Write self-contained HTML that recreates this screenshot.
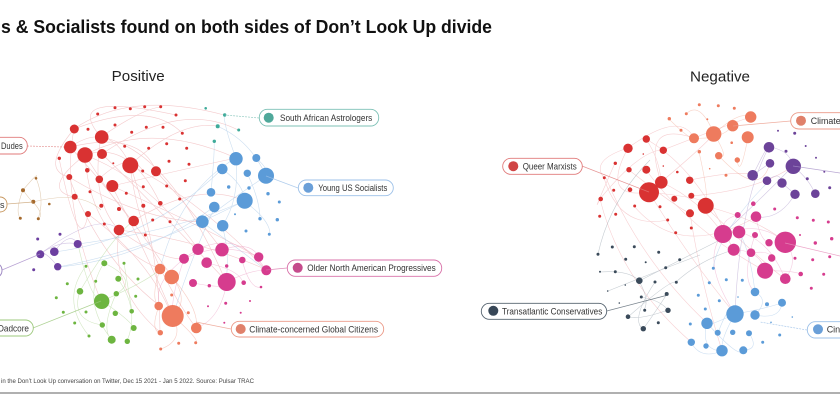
<!DOCTYPE html>
<html><head><meta charset="utf-8"><style>
html,body{margin:0;padding:0;background:#fff;}
svg{display:block;}
text{font-family:"Liberation Sans",sans-serif;}
</style></head><body>
<svg width="840" height="400" viewBox="0 0 840 400" xmlns="http://www.w3.org/2000/svg">
<rect width="840" height="400" fill="#fff"/>
<text x="1" y="33" font-size="18" font-weight="bold" fill="#111" textLength="491" lengthAdjust="spacingAndGlyphs">s &amp; Socialists found on both sides of Don’t Look Up divide</text>
<text x="111.7" y="81" font-size="15" fill="#222" textLength="53" lengthAdjust="spacingAndGlyphs">Positive</text>
<text x="690" y="81.5" font-size="15" fill="#222" textLength="60" lengthAdjust="spacingAndGlyphs">Negative</text>

<!-- POSITIVE EDGES -->
<g fill="none" stroke-width="0.6">
<g stroke="#e06a70" opacity="0.35">
<path d="M74 129 Q130 90 224 115"/><path d="M85 155 Q150 120 236 158"/><path d="M70 147 Q120 200 172 277"/>
<path d="M85 155 Q90 240 160 269"/><path d="M101 137 Q170 150 226 282"/><path d="M130 165 Q200 200 266 270"/>
<path d="M74 129 Q60 200 101 301"/><path d="M112 186 Q150 260 173 316"/><path d="M102 154 Q180 100 238 130"/>
<path d="M85 155 Q150 180 198 249"/><path d="M69 177 Q100 260 160 306"/><path d="M130 165 Q140 250 196 328"/>
<path d="M156 171 Q200 220 222 250"/><path d="M119 230 Q160 260 184 259"/><path d="M88 214 Q150 260 172 316"/>
<path d="M70 147 Q140 130 156 171"/><path d="M101 137 Q90 200 119 230"/><path d="M85 155 Q130 140 160 203"/>
<path d="M74 129 Q150 100 182 133"/><path d="M112 186 Q180 170 236 158"/><path d="M133 221 Q200 180 244 201"/>
<path d="M59 158 Q80 260 88 214"/><path d="M130 165 Q180 120 217 126"/><path d="M101 137 Q60 90 176 115"/>
<path d="M69 177 Q140 220 202 222"/><path d="M119 230 Q200 240 267 270"/><path d="M85 155 Q40 190 74 197"/>
<path d="M99 179 Q130 150 143 171"/><path d="M130 165 Q160 250 160 332"/><path d="M112 186 Q210 230 258 257"/>
<path d="M74 129 Q40 170 69 177"/><path d="M101 137 Q140 110 160 107"/><path d="M85 155 Q120 210 133 221"/>
<path d="M70 147 Q110 120 130 165"/><path d="M102 154 Q150 200 227 282"/><path d="M119 230 Q110 290 160 332"/>
</g>
<g stroke="#8fb8e0" opacity="0.45">
<path d="M236 158 Q240 200 222 226"/><path d="M266 176 Q230 200 202 222"/><path d="M244 201 Q180 230 78 244"/>
<path d="M222 169 Q150 240 54 252"/><path d="M214 207 Q140 260 58 267"/><path d="M236 158 Q225 130 224 115"/>
<path d="M266 176 Q250 140 217 126"/><path d="M211 192 Q215 150 214 141"/><path d="M244 201 Q270 220 270 234"/>
<path d="M247 173 Q260 200 260 219"/><path d="M202 222 Q240 250 266 270"/><path d="M222 226 Q230 250 226 282"/>
<path d="M256 158 Q270 170 266 176"/><path d="M222 169 Q245 185 244 201"/><path d="M215 207 Q190 260 173 316"/>
<path d="M236 158 Q180 190 160 269"/><path d="M244 201 Q150 250 58 267"/>
</g>
<g stroke="#a8d08a" opacity="0.5">
<path d="M104 263 Q80 300 112 340"/><path d="M118 279 Q140 310 127 341"/><path d="M80 291 Q70 320 102 325"/>
<path d="M102 301 Q130 320 134 328"/><path d="M86 266 Q60 300 89 336"/><path d="M116 294 Q100 330 112 340"/>
<path d="M104 263 Q140 280 116 294"/><path d="M78 244 Q90 300 102 301"/><path d="M102 301 Q150 280 160 269"/>
<path d="M124 263 Q130 300 132 311"/><path d="M80 291 Q110 240 133 221"/>
</g>
<g stroke="#a58ac8" opacity="0.5">
<path d="M40 254 Q60 240 78 244"/><path d="M54 252 Q70 230 78 244"/><path d="M58 267 Q45 250 40 254"/><path d="M40 254 Q100 210 119 230"/>
</g>
<g stroke="#c8a070" opacity="0.5">
<path d="M23 190 Q40 170 36 178"/><path d="M23 190 Q15 210 20 218"/><path d="M33 202 Q45 215 38 219"/><path d="M36 178 Q45 200 38 219"/><path d="M23 190 Q30 200 33 202"/><path d="M33 202 Q80 190 101 210"/>
</g>
<g stroke="#e88ab8" opacity="0.45">
<path d="M184 259 Q220 240 259 257"/><path d="M198 249 Q240 230 266 270"/><path d="M227 282 Q250 270 266 270"/>
<path d="M207 263 Q240 270 243 283"/><path d="M193 283 Q230 290 227 282"/><path d="M222 250 Q250 240 259 257"/>
<path d="M184 259 Q170 300 173 316"/><path d="M198 249 Q150 280 160 306"/><path d="M227 282 Q220 320 196 328"/>
<path d="M242 260 Q250 290 261 287"/>
</g>
<g stroke="#f0a090" opacity="0.5">
<path d="M160 269 Q150 300 159 306"/><path d="M172 277 Q190 300 173 316"/><path d="M173 316 Q185 340 161 349"/>
<path d="M159 306 Q150 330 160 333"/><path d="M173 316 Q200 340 196 343"/><path d="M172 277 Q200 310 196 328"/>
</g>
</g>

<!-- POSITIVE NODES -->
<g fill="#d93232">
<circle cx="74.3" cy="129" r="4.5"/><circle cx="88" cy="129.3" r="1.5"/><circle cx="97.7" cy="114" r="1.5"/>
<circle cx="115" cy="107.7" r="1.5"/><circle cx="130.3" cy="108.7" r="1.5"/><circle cx="144.7" cy="106.7" r="1.5"/>
<circle cx="160.7" cy="106.7" r="1.5"/><circle cx="176" cy="115" r="1.5"/><circle cx="115" cy="125" r="1.5"/>
<circle cx="131.7" cy="132.3" r="1.5"/><circle cx="146.3" cy="127.3" r="1.5"/><circle cx="163" cy="127.3" r="1.5"/>
<circle cx="182.3" cy="133.3" r="1.5"/><circle cx="101.7" cy="137" r="6.8"/><circle cx="70.3" cy="147" r="6.3"/>
<circle cx="85" cy="155" r="7.7"/><circle cx="102" cy="154" r="5"/><circle cx="59.3" cy="158.3" r="1.7"/>
<circle cx="124.7" cy="146.3" r="1.5"/><circle cx="148.7" cy="148.3" r="1.5"/><circle cx="166.7" cy="143.7" r="1.5"/>
<circle cx="186.7" cy="148.3" r="1.5"/><circle cx="130.3" cy="165.3" r="8"/><circle cx="87.3" cy="170.3" r="2.3"/>
<circle cx="69.3" cy="177" r="3"/><circle cx="99.3" cy="179.3" r="3.8"/><circle cx="112.3" cy="186" r="6"/>
<circle cx="90" cy="191.7" r="1.5"/><circle cx="74.7" cy="196.7" r="3"/><circle cx="126.3" cy="193.3" r="1.5"/>
<circle cx="143.3" cy="186.7" r="1.5"/><circle cx="156" cy="171.3" r="5"/><circle cx="142.7" cy="171" r="1.5"/>
<circle cx="169" cy="161.3" r="1.5"/><circle cx="189" cy="164.3" r="1.5"/><circle cx="166.7" cy="186" r="1.5"/>
<circle cx="185.3" cy="180.7" r="1.5"/><circle cx="101.3" cy="205.7" r="2"/><circle cx="119" cy="209" r="2"/>
<circle cx="143.3" cy="205.7" r="2"/><circle cx="160.3" cy="203.3" r="2.3"/><circle cx="179.7" cy="199" r="1.5"/>
<circle cx="88" cy="214" r="3"/><circle cx="133.7" cy="221" r="5.3"/><circle cx="119" cy="230" r="5.3"/>
<circle cx="104.3" cy="224" r="1.5"/><circle cx="152.7" cy="220" r="1.5"/><circle cx="170" cy="221.7" r="1.5"/>
<circle cx="145.3" cy="235" r="1.5"/><circle cx="113.3" cy="163.3" r="1"/>
</g>
<g fill="#a5692c">
<circle cx="36" cy="178.3" r="1.3"/><circle cx="23" cy="190.3" r="2"/><circle cx="33.3" cy="201.7" r="2"/>
<circle cx="49.3" cy="204" r="1.3"/><circle cx="20.3" cy="218.3" r="1.5"/><circle cx="38.3" cy="218.7" r="1.5"/>
</g>
<g fill="#3fab9a">
<circle cx="205.7" cy="108.3" r="1.3"/><circle cx="224.7" cy="115" r="1.7"/><circle cx="217.7" cy="126.3" r="2"/>
<circle cx="238.7" cy="130" r="1.5"/><circle cx="214.3" cy="141.3" r="1.7"/>
</g>
<g fill="#5b9bd8">
<circle cx="236" cy="158.7" r="6.7"/><circle cx="256.3" cy="158" r="4"/><circle cx="222.3" cy="169" r="5.3"/>
<circle cx="247.3" cy="173.3" r="3.7"/><circle cx="266" cy="175.7" r="8"/><circle cx="228.7" cy="187" r="1.7"/>
<circle cx="249" cy="188" r="1.7"/><circle cx="268" cy="193.7" r="1.7"/><circle cx="279.3" cy="202" r="1.5"/>
<circle cx="211" cy="192.3" r="4.3"/><circle cx="244.7" cy="200.7" r="8"/><circle cx="214.3" cy="207" r="5.3"/>
<circle cx="235" cy="214.3" r="1"/><circle cx="202.3" cy="221.7" r="6.3"/><circle cx="222.7" cy="225.7" r="5.7"/>
<circle cx="260" cy="218.7" r="1.7"/><circle cx="277.3" cy="219.7" r="1.7"/><circle cx="246" cy="231" r="1.5"/>
<circle cx="269.3" cy="234.3" r="1.5"/>
</g>
<g fill="#6c3fa0">
<circle cx="37.7" cy="239" r="1.5"/><circle cx="60" cy="234.3" r="1.5"/><circle cx="77.7" cy="244" r="4"/>
<circle cx="54.3" cy="251.7" r="4.3"/><circle cx="40.3" cy="254.3" r="4"/><circle cx="57.7" cy="266.7" r="3.7"/>
<circle cx="33.7" cy="269.7" r="1.5"/>
</g>
<g fill="#6db540">
<circle cx="104.3" cy="263.3" r="3"/><circle cx="86" cy="266.3" r="1.5"/><circle cx="124" cy="263.3" r="1.5"/>
<circle cx="118.3" cy="278.7" r="3"/><circle cx="138" cy="279" r="1.5"/><circle cx="95.7" cy="281.3" r="1.5"/>
<circle cx="67.3" cy="283.7" r="1.5"/><circle cx="80" cy="291.3" r="3.3"/><circle cx="116.3" cy="293.7" r="2.7"/>
<circle cx="101.7" cy="301.3" r="7.7"/><circle cx="56.3" cy="297.7" r="1.5"/><circle cx="135.7" cy="296.3" r="1.5"/>
<circle cx="63.3" cy="312.3" r="1.5"/><circle cx="86" cy="312" r="1.5"/><circle cx="115.3" cy="313.3" r="2.7"/>
<circle cx="131.7" cy="311.3" r="2.3"/><circle cx="74.7" cy="323" r="1.5"/><circle cx="102.3" cy="325" r="2.7"/>
<circle cx="133.7" cy="328" r="3"/><circle cx="89" cy="336" r="1.5"/><circle cx="111.7" cy="339.7" r="4"/>
<circle cx="127.3" cy="341.3" r="2.7"/>
</g>
<g fill="#ee7b5e">
<circle cx="160" cy="269" r="5.3"/><circle cx="171.7" cy="277" r="7.3"/><circle cx="171.7" cy="295" r="1.5"/>
<circle cx="158.7" cy="306" r="4.3"/><circle cx="172.7" cy="316" r="11"/><circle cx="188.3" cy="312.7" r="1.5"/>
<circle cx="196.3" cy="328" r="5.3"/><circle cx="160.3" cy="332.7" r="2.7"/><circle cx="178.7" cy="343.3" r="1.5"/>
<circle cx="195.7" cy="342.7" r="1.5"/><circle cx="160.7" cy="349" r="1.5"/>
</g>
<g fill="#d63c8e">
<circle cx="184" cy="258.7" r="5"/><circle cx="198" cy="249.3" r="5.7"/><circle cx="222" cy="249.7" r="6.7"/>
<circle cx="206.7" cy="262.7" r="5.3"/><circle cx="226.7" cy="282" r="9"/><circle cx="193" cy="283" r="4"/>
<circle cx="209.3" cy="285.7" r="1.7"/><circle cx="226.7" cy="266" r="1.7"/><circle cx="242.3" cy="260" r="3.3"/>
<circle cx="258.7" cy="257" r="4.7"/><circle cx="266.3" cy="270.3" r="5"/><circle cx="243.7" cy="282.7" r="2.3"/>
<circle cx="261" cy="287" r="1.3"/><circle cx="225.7" cy="303.3" r="1.5"/><circle cx="250" cy="301" r="1"/>
<circle cx="208" cy="306.3" r="1"/><circle cx="240.7" cy="312.7" r="1"/><circle cx="224.3" cy="322.7" r="1"/>
</g>

<!-- NEGATIVE EDGES -->
<g fill="none" stroke-width="0.6">
<g stroke="#e87a80" opacity="0.35">
<path d="M649 192 Q700 150 714 134"/><path d="M649 192 Q720 200 705 206"/><path d="M628 148 Q600 200 649 192"/>
<path d="M661 182 Q700 200 723 234"/><path d="M646 139 Q700 170 733 250"/><path d="M649 192 Q690 260 735 314"/>
<path d="M606 178 Q640 260 707 323"/><path d="M600 199 Q620 280 691 342"/><path d="M705 206 Q760 220 785 242"/>
<path d="M690 180 Q740 170 753 175"/><path d="M628 148 Q680 110 694 138"/><path d="M663 150 Q740 120 751 117"/>
<path d="M629 170 Q680 210 690 213"/><path d="M646 170 Q690 230 765 271"/><path d="M615 163 Q590 220 600 199"/>
<path d="M604 178 Q620 230 667 220"/><path d="M705 206 Q760 260 785 279"/><path d="M690 213 Q700 280 722 351"/>
<path d="M661 182 Q640 120 694 138"/><path d="M634 206 Q680 260 756 217"/><path d="M628 148 Q590 160 604 178"/>
<path d="M646 139 Q660 160 661 182"/><path d="M600 199 Q640 150 663 150"/><path d="M691 196 Q760 190 793 166"/>
</g>
<g stroke="#f0a088" opacity="0.45">
<path d="M714 134 Q740 110 751 117"/><path d="M694 138 Q720 140 733 126"/><path d="M714 134 Q730 160 719 156"/>
<path d="M699 152 Q710 200 705 206"/><path d="M748 137 Q740 180 737 160"/><path d="M669 119 Q690 140 694 138"/>
<path d="M719 156 Q760 200 770 163"/><path d="M686 114 Q700 100 714 134"/>
</g>
<g stroke="#a792c8" opacity="0.5">
<path d="M769 147 Q790 150 793 166"/><path d="M770 163 Q760 170 753 175"/><path d="M793 166 Q810 180 815 194"/>
<path d="M782 183 Q790 190 795 194"/><path d="M767 181 Q780 170 782 183"/><path d="M753 175 Q770 140 769 147"/>
<path d="M795 194 Q780 220 756 217"/><path d="M793 166 Q760 200 723 234"/><path d="M769 147 Q740 200 735 314"/>
</g>
<g stroke="#e890bc" opacity="0.45">
<path d="M723 234 Q760 220 785 242"/><path d="M739 232 Q770 240 785 279"/><path d="M734 250 Q760 250 765 271"/>
<path d="M751 253 Q770 250 772 258"/><path d="M723 234 Q700 260 735 314"/><path d="M785 242 Q800 260 785 279"/>
<path d="M756 217 Q760 240 769 243"/><path d="M755 235 Q740 280 755 292"/><path d="M765 271 Q790 270 801 274"/>
<path d="M737 215 Q720 220 723 234"/>
</g>
<g stroke="#98a4ae" opacity="0.55">
<path d="M639 281 Q680 260 720 240"/><path d="M639 281 Q650 300 644 310"/><path d="M667 294 Q650 320 643 329"/>
<path d="M668 310 Q640 320 628 317"/><path d="M655 282 Q630 320 643 329"/><path d="M676 282 Q700 260 733 250"/>
<path d="M598 254 Q610 200 650 160"/><path d="M608 291 Q660 270 700 255"/><path d="M641 297 Q660 300 668 310"/>
<path d="M628 317 Q670 280 676 282"/><path d="M600 272 Q630 270 639 281"/>
</g>
<g stroke="#9cc0e6" opacity="0.5">
<path d="M735 314 Q760 310 782 303"/><path d="M735 314 Q700 330 707 323"/><path d="M755 292 Q770 300 755 315"/>
<path d="M735 314 Q720 340 722 351"/><path d="M707 323 Q700 350 722 351"/><path d="M749 333 Q760 350 743 350"/>
<path d="M755 315 Q780 320 782 303"/><path d="M691 342 Q700 360 722 351"/><path d="M755 292 Q750 250 739 232"/>
<path d="M718 333 Q730 300 735 314"/><path d="M713 268 Q720 230 769 181"/><path d="M707 323 Q740 360 743 350"/>
</g>
</g>

<!-- NEGATIVE NODES -->
<g fill="#ee7b5e">
<circle cx="699.3" cy="104.7" r="1.5"/><circle cx="718.3" cy="105.7" r="1.5"/><circle cx="734.3" cy="108.3" r="1.5"/>
<circle cx="686.3" cy="113.7" r="1.5"/><circle cx="669.3" cy="118.7" r="1.7"/><circle cx="707.3" cy="119.3" r="1"/>
<circle cx="750.7" cy="117" r="5.7"/><circle cx="732.7" cy="125.7" r="5.7"/><circle cx="713.7" cy="134" r="7.7"/>
<circle cx="681" cy="130.3" r="1.5"/><circle cx="694" cy="138.3" r="5"/><circle cx="747.7" cy="137.3" r="6"/>
<circle cx="731.7" cy="142.7" r="1.3"/><circle cx="699.3" cy="151.7" r="1.7"/><circle cx="718.7" cy="155.7" r="3.7"/>
<circle cx="737.3" cy="160" r="2.7"/><circle cx="709.7" cy="168.7" r="0.8"/><circle cx="726" cy="175.3" r="1.5"/>
</g>
<g fill="#d93232">
<circle cx="646.3" cy="139" r="3.7"/><circle cx="628" cy="148.3" r="4.7"/><circle cx="663.3" cy="150.3" r="3.7"/>
<circle cx="643.3" cy="154" r="0.8"/><circle cx="615.3" cy="163.3" r="1.7"/><circle cx="629" cy="169.7" r="2.7"/>
<circle cx="646.3" cy="169.7" r="4"/><circle cx="663.3" cy="166" r="0.8"/><circle cx="677.3" cy="172" r="1.3"/>
<circle cx="604.3" cy="177.7" r="1.5"/><circle cx="661.3" cy="182.3" r="6.3"/><circle cx="649" cy="192.3" r="10"/>
<circle cx="689.7" cy="180.3" r="3.7"/><circle cx="630" cy="189.7" r="2.3"/><circle cx="613.7" cy="190.3" r="1.5"/>
<circle cx="600.7" cy="199" r="2.3"/><circle cx="674.3" cy="198.7" r="3"/><circle cx="691.3" cy="195.7" r="3"/>
<circle cx="705.7" cy="205.7" r="8"/><circle cx="634.7" cy="206" r="1.5"/><circle cx="660" cy="206.7" r="1.5"/>
<circle cx="690" cy="213.3" r="4"/><circle cx="599.7" cy="216.3" r="1.5"/><circle cx="615.7" cy="214.3" r="1.5"/>
<circle cx="667.7" cy="220" r="1.5"/><circle cx="675.7" cy="232.7" r="1.5"/><circle cx="691.3" cy="228" r="1.5"/>
</g>
<g fill="#6c4399">
<circle cx="769" cy="147.3" r="5.3"/><circle cx="778" cy="130.7" r="1"/><circle cx="794.7" cy="133.3" r="1.5"/>
<circle cx="805.7" cy="146" r="1"/><circle cx="786" cy="151.3" r="1.5"/><circle cx="816" cy="157.7" r="1"/>
<circle cx="770" cy="163.3" r="4.3"/><circle cx="793.3" cy="166.3" r="7.7"/><circle cx="752.7" cy="175.3" r="5.3"/>
<circle cx="767" cy="180.7" r="4.3"/><circle cx="782" cy="183" r="4.7"/><circle cx="807.3" cy="178.7" r="1.5"/>
<circle cx="824.3" cy="171.7" r="1"/><circle cx="795" cy="194.3" r="4.7"/><circle cx="815.3" cy="193.7" r="4.3"/>
<circle cx="829.7" cy="187.7" r="1.5"/>
</g>
<g fill="#d63c8e">
<circle cx="753.3" cy="203.7" r="2.3"/><circle cx="774.7" cy="209" r="1.5"/><circle cx="756" cy="216.7" r="5.3"/>
<circle cx="737.7" cy="215" r="3"/><circle cx="797.3" cy="217.7" r="1.5"/><circle cx="813.3" cy="220.3" r="1.5"/>
<circle cx="828.3" cy="222" r="1.5"/><circle cx="723" cy="234" r="9"/><circle cx="739" cy="232" r="6.3"/>
<circle cx="755" cy="235" r="3"/><circle cx="785.3" cy="242.3" r="10.7"/><circle cx="769" cy="242.7" r="3.7"/>
<circle cx="733.7" cy="249.7" r="6"/><circle cx="751" cy="252.7" r="4.3"/><circle cx="771.7" cy="258" r="3.7"/>
<circle cx="765" cy="270.7" r="8"/><circle cx="785.3" cy="278.7" r="5.3"/><circle cx="800.7" cy="274" r="2.3"/>
<circle cx="815.3" cy="243" r="1.7"/><circle cx="831.7" cy="238.7" r="1.7"/><circle cx="795" cy="258.3" r="1.5"/>
<circle cx="812.7" cy="259.7" r="1.5"/><circle cx="829.7" cy="256.7" r="1.5"/><circle cx="823.7" cy="274.3" r="1.5"/>
<circle cx="811.3" cy="288.3" r="1.5"/><circle cx="800" cy="235" r="1"/>
</g>
<g fill="#3a4a5a">
<circle cx="598" cy="254.3" r="1.5"/><circle cx="612.3" cy="247" r="1.5"/><circle cx="634.3" cy="246.7" r="1.5"/>
<circle cx="658.7" cy="252.3" r="1.5"/><circle cx="625.7" cy="259.3" r="1.5"/><circle cx="645.7" cy="262.3" r="1"/>
<circle cx="679.7" cy="259.7" r="1.5"/><circle cx="600" cy="271.7" r="1"/><circle cx="615.3" cy="271.7" r="1.5"/>
<circle cx="665.7" cy="267.7" r="1.5"/><circle cx="639.3" cy="280.7" r="3.3"/><circle cx="655" cy="282" r="1.5"/>
<circle cx="676.3" cy="282.3" r="1.5"/><circle cx="625.3" cy="285" r="0.8"/><circle cx="607.7" cy="291" r="0.8"/>
<circle cx="666.7" cy="294" r="2"/><circle cx="641.3" cy="297" r="1.5"/><circle cx="619.3" cy="303" r="0.8"/>
<circle cx="644.7" cy="310.3" r="1.5"/><circle cx="668" cy="310.3" r="2.7"/><circle cx="628" cy="316.7" r="2.3"/>
<circle cx="658.3" cy="322.7" r="1.5"/><circle cx="643.3" cy="328.7" r="2.7"/>
</g>
<g fill="#5b9bd8">
<circle cx="713.3" cy="268.3" r="1.5"/><circle cx="709.3" cy="282.7" r="1.5"/><circle cx="726.3" cy="279.7" r="1.5"/>
<circle cx="742.3" cy="280.3" r="1.5"/><circle cx="698.3" cy="295.3" r="1.5"/><circle cx="719.3" cy="300.7" r="1.5"/>
<circle cx="755" cy="292" r="4.3"/><circle cx="767" cy="304.3" r="2"/><circle cx="782" cy="302.7" r="4"/>
<circle cx="705.3" cy="309" r="1.5"/><circle cx="735" cy="314" r="8.7"/><circle cx="755" cy="315" r="4.7"/>
<circle cx="792.3" cy="317" r="0.8"/><circle cx="690.3" cy="324" r="1.5"/><circle cx="707" cy="323.3" r="5.7"/>
<circle cx="771" cy="322.3" r="0.8"/><circle cx="717.7" cy="332.7" r="3"/><circle cx="732.7" cy="332.3" r="2.7"/>
<circle cx="749" cy="333.3" r="3"/><circle cx="779.7" cy="335" r="1.5"/><circle cx="762.7" cy="342.3" r="1.5"/>
<circle cx="691.3" cy="342.3" r="3.7"/><circle cx="706" cy="346" r="2.7"/><circle cx="722" cy="350.7" r="5.7"/>
<circle cx="743.3" cy="350.3" r="4"/><circle cx="738" cy="297" r="0.8"/>
</g>

<!-- LEADER LINES -->
<g fill="none" stroke-width="0.7" opacity="0.8">
<path d="M27 146 L64 147" stroke="#e08080" stroke-dasharray="2 1"/>
<path d="M7 204 L33 202" stroke="#c8a070"/>
<path d="M2 270 L40 254" stroke="#a58ac8"/>
<path d="M33 328 L101 301" stroke="#9cc87c"/>
<path d="M259 118 L225 115" stroke="#7cc0b5" stroke-dasharray="2 1"/>
<path d="M298 188 L266 176" stroke="#9cc0e8"/>
<path d="M287 268 L266 270" stroke="#d870a8"/>
<path d="M231 329 L196 322" stroke="#eb9a88"/>
<path d="M582 166 L649 192" stroke="#e07a7a"/>
<path d="M790.7 121 L733 126" stroke="#eb9a88"/>
<path d="M606.7 311 L668 295" stroke="#55636f"/>
<path d="M807 330 L760 322" stroke="#9cc0e8" stroke-dasharray="2 1"/>
<path d="M793 166 L840 173" stroke="#a792c8"/>
<path d="M785 243 L840 256" stroke="#e890bc"/>
</g>

<!-- LABELS -->
<g font-size="9" fill="#333">
<rect x="-20" y="137.3" width="47.3" height="16.7" rx="8" fill="#fff" stroke="#e07a7a" stroke-width="0.9"/>
<text x="1" y="149" textLength="21.7" lengthAdjust="spacingAndGlyphs">Dudes</text>
<rect x="-20" y="197" width="27" height="15" rx="7" fill="#fff" stroke="#c89860" stroke-width="0.9"/>
<text x="0" y="208">s</text>
<rect x="-20" y="263" width="22" height="14.7" rx="7" fill="#fff" stroke="#9b85c0" stroke-width="0.9"/>
<rect x="-20" y="320" width="53.3" height="16" rx="8" fill="#fff" stroke="#9cc87c" stroke-width="0.9"/>
<text x="-2" y="331.5" textLength="31" lengthAdjust="spacingAndGlyphs">Dadcore</text>

<rect x="259.3" y="109.3" width="119.4" height="16.7" rx="8" fill="#fff" stroke="#7cc0b5" stroke-width="0.9"/>
<circle cx="268.7" cy="117.7" r="5" fill="#4fa89a"/>
<text x="280" y="121" textLength="92.3" lengthAdjust="spacingAndGlyphs">South African Astrologers</text>

<rect x="298.3" y="180" width="95" height="15.7" rx="8" fill="#fff" stroke="#9cc0e8" stroke-width="0.9"/>
<circle cx="308.3" cy="187.7" r="5" fill="#6a9fd8"/>
<text x="318.3" y="191" textLength="69" lengthAdjust="spacingAndGlyphs">Young US Socialists</text>

<rect x="287.3" y="260" width="154.4" height="16.3" rx="8" fill="#fff" stroke="#d870a8" stroke-width="0.9"/>
<circle cx="297.7" cy="267.8" r="5" fill="#c54b8c"/>
<text x="307.3" y="271.2" textLength="128.4" lengthAdjust="spacingAndGlyphs">Older North American Progressives</text>

<rect x="231.3" y="321.3" width="152.4" height="15.7" rx="8" fill="#fff" stroke="#eb9a88" stroke-width="0.9"/>
<circle cx="240.7" cy="329" r="5" fill="#e0806a"/>
<text x="249.3" y="332.3" textLength="128.7" lengthAdjust="spacingAndGlyphs">Climate-concerned Global Citizens</text>

<rect x="502.7" y="158.3" width="79.6" height="16" rx="8" fill="#fff" stroke="#e07a7a" stroke-width="0.9"/>
<circle cx="513.3" cy="166.2" r="5" fill="#d04545"/>
<text x="522.7" y="169.5" textLength="54" lengthAdjust="spacingAndGlyphs">Queer Marxists</text>

<rect x="790.7" y="112.7" width="80" height="16.3" rx="8" fill="#fff" stroke="#eb9a88" stroke-width="0.9"/>
<circle cx="801" cy="120.7" r="5" fill="#e0806a"/>
<text x="810.7" y="124" textLength="30" lengthAdjust="spacingAndGlyphs">Climate</text>

<rect x="481.3" y="303.3" width="125.4" height="16" rx="8" fill="#fff" stroke="#55636f" stroke-width="0.9"/>
<circle cx="493.3" cy="310.8" r="5" fill="#374757"/>
<text x="502" y="314.5" textLength="100.3" lengthAdjust="spacingAndGlyphs">Transatlantic Conservatives</text>

<rect x="807.3" y="321.7" width="80" height="16.3" rx="8" fill="#fff" stroke="#9cc0e8" stroke-width="0.9"/>
<circle cx="818" cy="329.3" r="5" fill="#6a9fd8"/>
<text x="826.7" y="332.7">Cinephiles</text>
</g>

<text x="1" y="383" font-size="6" fill="#444" textLength="253" lengthAdjust="spacingAndGlyphs">in the Don’t Look Up conversation on Twitter, Dec 15 2021 - Jan 5 2022. Source: Pulsar TRAC</text>
<line x1="0" y1="393" x2="840" y2="393" stroke="#808080" stroke-width="1.3"/>
</svg>
</body></html>
